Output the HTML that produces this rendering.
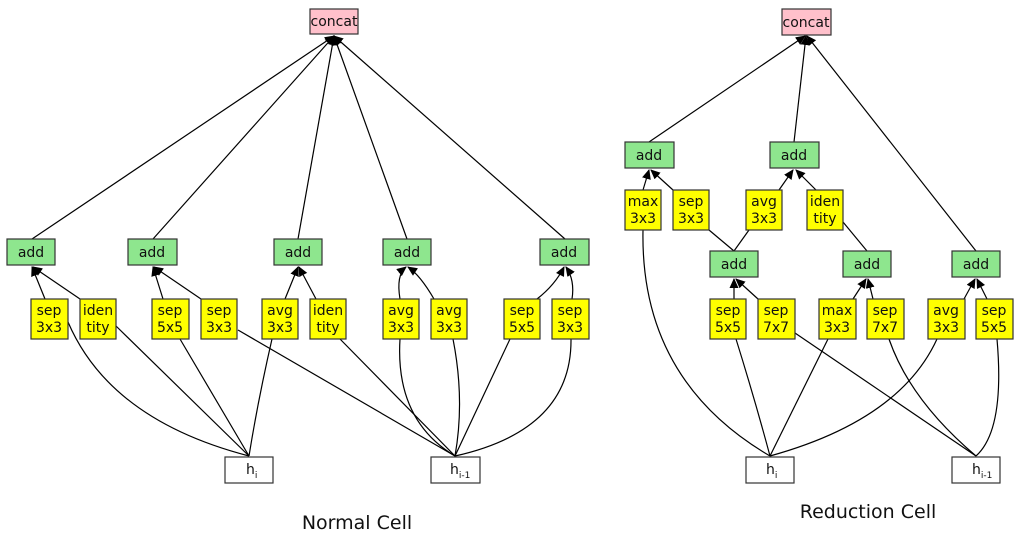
<!DOCTYPE html>
<html><head><meta charset="utf-8"><style>
html,body{margin:0;padding:0;background:#fff;}
svg{display:block;}
text{font-family:"DejaVu Sans","Liberation Sans",sans-serif;font-size:14px;fill:#111;}
.g{fill:#8ee68e;stroke:#333;stroke-width:1.2}
.y{fill:#ffff00;stroke:#333;stroke-width:1.2}
.p{fill:#ffc0cb;stroke:#333;stroke-width:1.2}
.w{fill:#fff;stroke:#333;stroke-width:1.2}
.e{fill:none;stroke:#000;stroke-width:1.2}
.a{fill:none;stroke:#000;stroke-width:1.2;marker-end:url(#ar)}
</style></head><body>
<svg width="1024" height="538" viewBox="0 0 1024 538" xmlns="http://www.w3.org/2000/svg">
<defs><marker id="ar" markerWidth="12" markerHeight="10" refX="9" refY="4.5" orient="auto" markerUnits="userSpaceOnUse"><path d="M0,0 L10,4.5 L0,9 z" fill="#000"/></marker></defs>

<path class="a" d="M32,239 L334,36"/>
<path class="a" d="M153,239 L334,36"/>
<path class="a" d="M298,239 L334,36"/>
<path class="a" d="M407,239 L334,36"/>
<path class="a" d="M565,239 L334,36"/>
<path class="a" d="M45,299 L32,267"/>
<path class="a" d="M80,299 L33,267"/>
<path class="a" d="M163,299 L153,267"/>
<path class="a" d="M201,299 L154,267"/>
<path class="a" d="M285,299 L298,267"/>
<path class="a" d="M316,299 L299,267"/>
<path class="a" d="M400,299 Q396,275 406,267"/>
<path class="a" d="M434,299 Q420,275 408,267"/>
<path class="a" d="M537,299 Q555,285 564,267"/>
<path class="a" d="M572,299 Q575,280 566,267"/>
<path class="e" d="M249,456 Q110,420 68,322"/>
<path class="e" d="M249,456 L116,326"/>
<path class="e" d="M249,456 L180,339"/>
<path class="e" d="M455,456 L238,330"/>
<path class="e" d="M249,456 Q258,400 272,339"/>
<path class="e" d="M455,456 L340,339"/>
<path class="e" d="M455,456 Q395,420 400,339"/>
<path class="e" d="M455,456 Q465,400 453,339"/>
<path class="e" d="M455,456 L510,339"/>
<path class="e" d="M455,456 Q572,430 571,339"/>

<path class="a" d="M649,142 L805,36"/>
<path class="a" d="M794,142 L806,36"/>
<path class="a" d="M976,251 L807,36"/>
<path class="a" d="M643,190 L649,170"/>
<path class="a" d="M673,190 L651,170"/>
<path class="a" d="M779,190 L793,170"/>
<path class="a" d="M816,190 L796,170"/>
<path class="a" d="M734,299 L734,279"/>
<path class="a" d="M758,299 L736,279"/>
<path class="a" d="M853,299 L866,279"/>
<path class="a" d="M873,299 L868,279"/>
<path class="a" d="M964,299 L975,279"/>
<path class="a" d="M987,299 L977,279"/>
<path class="e" d="M734,251 L709,230"/>
<path class="e" d="M734,251 L749,230"/>
<path class="e" d="M867,251 L843,222"/>
<path class="e" d="M643,230 Q640,380 770,456"/>
<path class="e" d="M770,456 Q755,400 736,339"/>
<path class="e" d="M976,456 L795,333"/>
<path class="e" d="M770,456 L828,339"/>
<path class="e" d="M976,456 Q910,400 889,339"/>
<path class="e" d="M770,456 Q900,420 937,339"/>
<path class="e" d="M976,456 Q1005,430 997,339"/>

<rect class="p" x="310" y="9" width="48" height="25"/><text x="334" y="26" text-anchor="middle">concat</text>
<g text-anchor="middle">
<rect class="g" x="7" y="239" width="48" height="26"/><text x="31" y="257">add</text>
<rect class="g" x="128" y="239" width="49" height="26"/><text x="152" y="257">add</text>
<rect class="g" x="274" y="239" width="48" height="26"/><text x="298" y="257">add</text>
<rect class="g" x="383" y="239" width="48" height="26"/><text x="407" y="257">add</text>
<rect class="g" x="540" y="239" width="49" height="26"/><text x="564" y="257">add</text>

<rect class="y" x="31" y="299" width="37" height="40"/><text x="49" y="315">sep</text><text x="49" y="332">3x3</text>
<rect class="y" x="80" y="299" width="36" height="40"/><text x="98" y="315">iden</text><text x="98" y="332">tity</text>
<rect class="y" x="152" y="299" width="37" height="40"/><text x="170" y="315">sep</text><text x="170" y="332">5x5</text>
<rect class="y" x="201" y="299" width="36" height="40"/><text x="219" y="315">sep</text><text x="219" y="332">3x3</text>
<rect class="y" x="262" y="299" width="36" height="40"/><text x="280" y="315">avg</text><text x="280" y="332">3x3</text>
<rect class="y" x="310" y="299" width="36" height="40"/><text x="328" y="315">iden</text><text x="328" y="332">tity</text>
<rect class="y" x="383" y="299" width="36" height="40"/><text x="401" y="315">avg</text><text x="401" y="332">3x3</text>
<rect class="y" x="431" y="299" width="36" height="40"/><text x="449" y="315">avg</text><text x="449" y="332">3x3</text>
<rect class="y" x="504" y="299" width="36" height="40"/><text x="522" y="315">sep</text><text x="522" y="332">5x5</text>
<rect class="y" x="552" y="299" width="37" height="40"/><text x="570" y="315">sep</text><text x="570" y="332">3x3</text>
</g>
<rect class="w" x="225" y="457" width="48" height="26"/><text x="246" y="474">h<tspan font-size="9" dy="4">i</tspan></text>
<rect class="w" x="431" y="457" width="49" height="26"/><text x="450" y="474">h<tspan font-size="9" dy="4">i-1</tspan></text>
<text x="357" y="529" text-anchor="middle" style="font-size:19px">Normal Cell</text>

<rect class="p" x="782" y="9" width="49" height="26"/><text x="806" y="27" text-anchor="middle">concat</text>
<g text-anchor="middle">
<rect class="g" x="625" y="142" width="49" height="26"/><text x="649" y="160">add</text>
<rect class="g" x="770" y="142" width="49" height="26"/><text x="794" y="160">add</text>
<rect class="g" x="710" y="251" width="48" height="26"/><text x="734" y="269">add</text>
<rect class="g" x="843" y="251" width="48" height="26"/><text x="867" y="269">add</text>
<rect class="g" x="952" y="251" width="48" height="26"/><text x="976" y="269">add</text>

<rect class="y" x="625" y="190" width="36" height="40"/><text x="643" y="206">max</text><text x="643" y="223">3x3</text>
<rect class="y" x="673" y="190" width="36" height="40"/><text x="691" y="206">sep</text><text x="691" y="223">3x3</text>
<rect class="y" x="746" y="190" width="36" height="40"/><text x="764" y="206">avg</text><text x="764" y="223">3x3</text>
<rect class="y" x="807" y="190" width="36" height="40"/><text x="825" y="206">iden</text><text x="825" y="223">tity</text>

<rect class="y" x="710" y="299" width="36" height="40"/><text x="728" y="315">sep</text><text x="728" y="332">5x5</text>
<rect class="y" x="758" y="299" width="37" height="40"/><text x="776" y="315">sep</text><text x="776" y="332">7x7</text>
<rect class="y" x="819" y="299" width="37" height="40"/><text x="837" y="315">max</text><text x="837" y="332">3x3</text>
<rect class="y" x="867" y="299" width="37" height="40"/><text x="885" y="315">sep</text><text x="885" y="332">7x7</text>
<rect class="y" x="928" y="299" width="37" height="40"/><text x="946" y="315">avg</text><text x="946" y="332">3x3</text>
<rect class="y" x="976" y="299" width="37" height="40"/><text x="994" y="315">sep</text><text x="994" y="332">5x5</text>
</g>
<rect class="w" x="746" y="457" width="48" height="26"/><text x="766" y="474">h<tspan font-size="9" dy="4">i</tspan></text>
<rect class="w" x="952" y="457" width="48" height="26"/><text x="972" y="474">h<tspan font-size="9" dy="4">i-1</tspan></text>
<text x="868" y="518" text-anchor="middle" style="font-size:19px">Reduction Cell</text>
</svg>
</body></html>
